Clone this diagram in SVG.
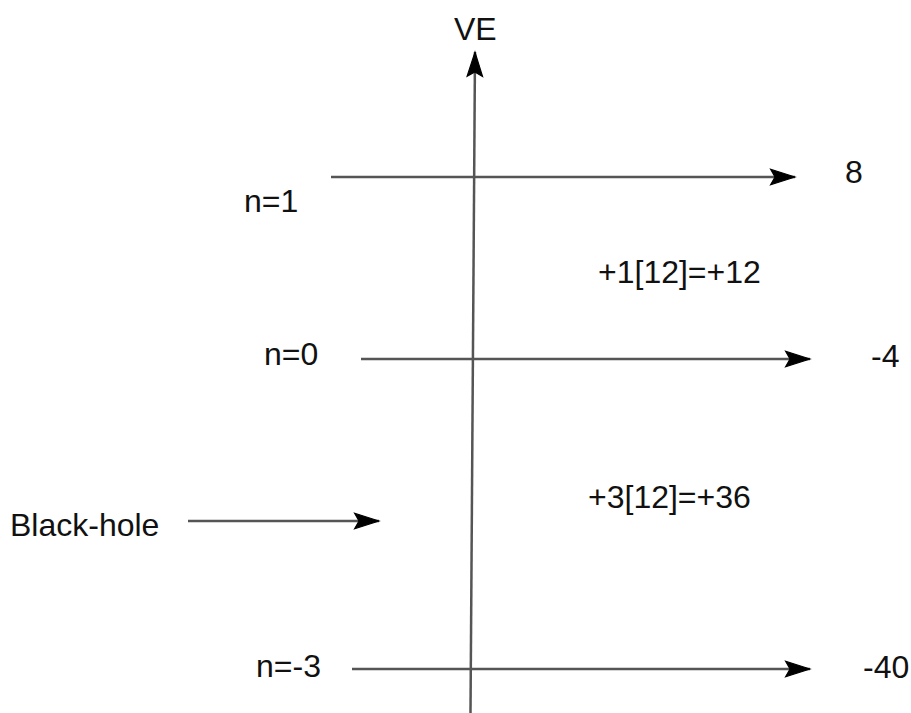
<svg xmlns="http://www.w3.org/2000/svg" width="911" height="713" viewBox="0 0 911 713">
<style>
.t{font-family:"Liberation Sans",Arial,sans-serif;font-size:32px;fill:#111}
.ln{stroke:#555;stroke-width:2.5;fill:none}
</style>
<defs>
<marker id="ah" markerUnits="userSpaceOnUse" markerWidth="30" markerHeight="20" viewBox="-24 -9 26 18" refX="0" refY="0" orient="auto">
<path d="M0,0 L-22,-7 L-18,0 L-22,7 Z" fill="#000" stroke="#000" stroke-width="1"/>
</marker>
</defs>
<rect width="911" height="713" fill="#fff"/>
<g id="connectors">
<line class="ln" x1="470.5" y1="713" x2="475" y2="52" marker-end="url(#ah)"/>
<line class="ln" x1="331" y1="177" x2="795" y2="177" marker-end="url(#ah)"/>
<line class="ln" x1="361" y1="359" x2="810" y2="359" marker-end="url(#ah)"/>
<line class="ln" x1="188" y1="521" x2="379" y2="521" marker-end="url(#ah)"/>
<line class="ln" x1="352" y1="669" x2="810" y2="669" marker-end="url(#ah)"/>
</g>
<g id="axis-label"><text class="t" x="454" y="40">VE</text></g>
<g id="level-n1">
<text class="t" x="244" y="212">n=1</text>
<text class="t" x="845" y="183">8</text>
</g>
<g id="level-n0">
<text class="t" x="264" y="365">n=0</text>
<text class="t" x="871" y="367">-4</text>
</g>
<g id="level-n-3">
<text class="t" x="256" y="677">n=-3</text>
<text class="t" x="863" y="678">-40</text>
</g>
<g id="gap-upper"><text class="t" x="598" y="283">+1[12]=+12</text></g>
<g id="gap-lower"><text class="t" x="588" y="508">+3[12]=+36</text></g>
<g id="black-hole"><text class="t" x="10" y="536">Black-hole</text></g>
</svg>
